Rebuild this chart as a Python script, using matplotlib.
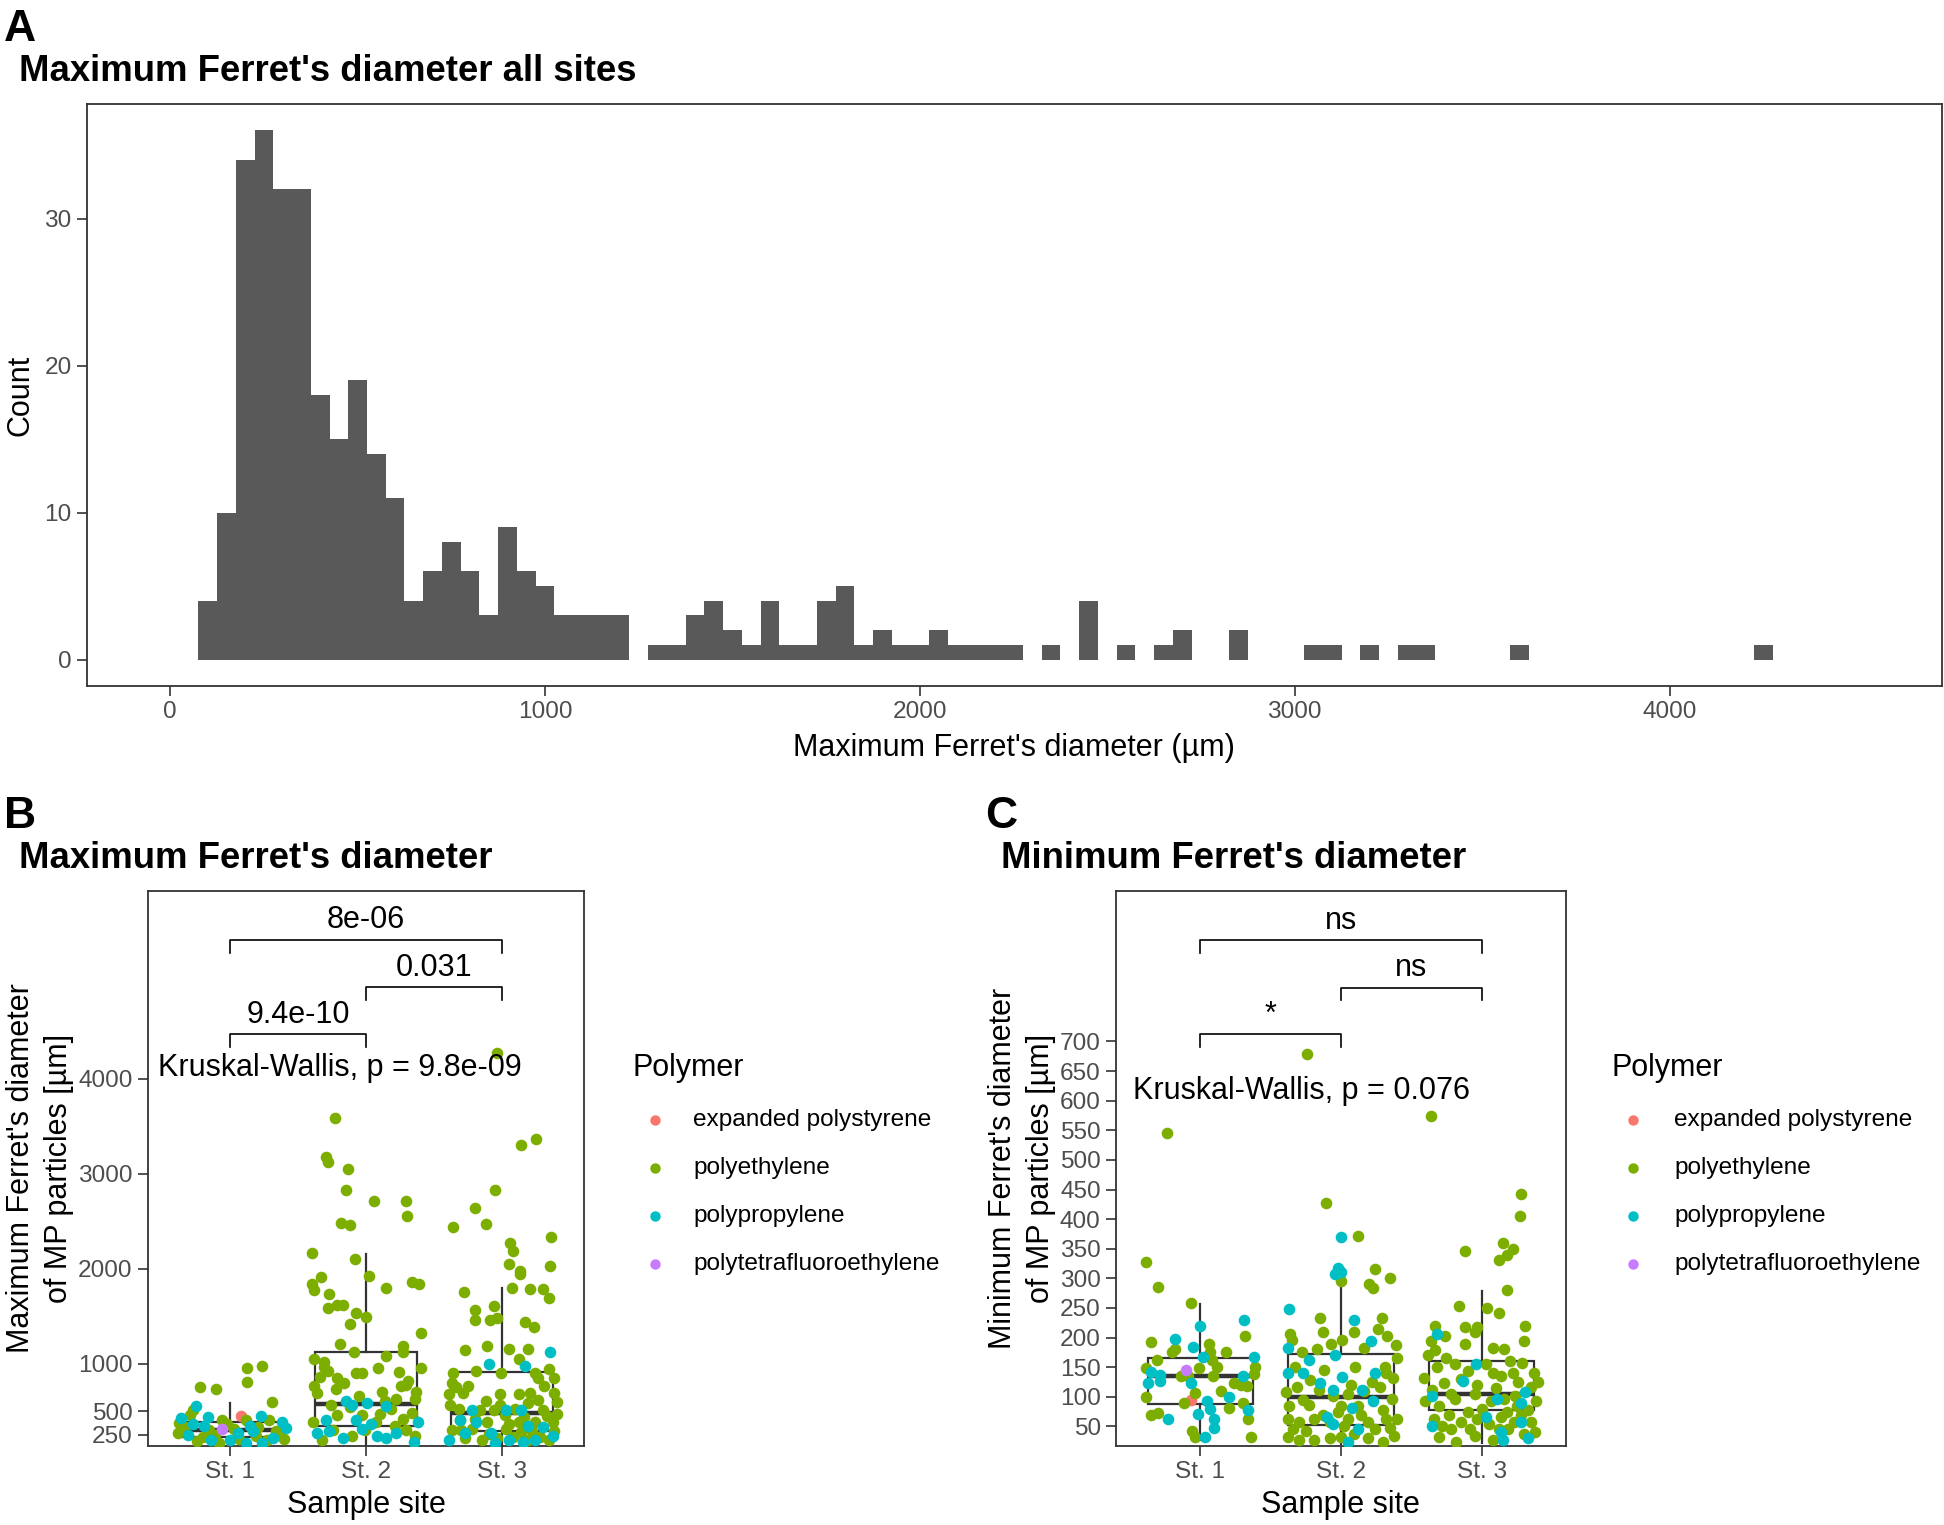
import matplotlib
matplotlib.use("Agg")
import numpy as np
from matplotlib import pyplot as plt

plt.rcParams['font.family'] = ['Liberation Sans', 'DejaVu Sans']

W, H = 1944, 1525

# ---- panel A: histogram of max Feret diameter (binwidth 50, first bin 75-125) ----
BIN_START = 75
BIN_WIDTH = 50
hist_counts = [4, 10, 34, 36, 32, 32, 18, 15, 19, 14, 11, 4, 6, 8, 6, 3, 9, 6, 5, 3, 3, 3, 3,
               0, 1, 1, 3, 4, 2, 1, 4, 1, 1, 4, 5, 1, 2, 1, 1, 2, 1, 1, 1, 1,
               0, 1, 0, 4, 0, 1, 0, 1, 2, 0, 0, 2, 0, 0, 0, 1, 1, 0, 1, 0, 1, 1,
               0, 0, 0, 0, 1, 0, 0, 0, 0, 0, 0, 0, 0, 0, 0, 0, 0, 1]

# ---- panels B / C: points (jitter offset, value, polymer) per site ----
B_ST1 = [(-0.22, 752, 'PE'), (-0.10, 737, 'PE'), (0.13, 956, 'PE'), (0.24, 971, 'PE'), (0.13, 810, 'PE'),
         (0.31, 591, 'PE'), (-0.27, 508, 'PE'), (-0.29, 459, 'PE'), (-0.37, 372, 'PE'), (-0.38, 265, 'PE'),
         (-0.20, 226, 'PE'), (-0.15, 304, 'PE'), (-0.06, 411, 'PE'), (0.03, 313, 'PE'), (0.12, 401, 'PE'),
         (0.29, 411, 'PE'), (0.40, 206, 'PE'), (0.34, 289, 'PE'), (-0.08, 167, 'PE'), (0.19, 240, 'PE'),
         (-0.33, 330, 'PE'), (-0.11, 250, 'PE'), (0.07, 210, 'PE'), (0.21, 330, 'PE'), (0.36, 250, 'PE'),
         (-0.24, 180, 'PE'), (0.27, 200, 'PE'), (-0.02, 360, 'PE'),
         (-0.06, 313, 'PTFE'), (0.08, 445, 'EPS'),
         (-0.36, 425, 'PP'), (-0.25, 557, 'PP'), (-0.19, 338, 'PP'), (-0.14, 196, 'PP'), (0.00, 191, 'PP'),
         (0.23, 445, 'PP'), (0.38, 386, 'PP'), (0.41, 323, 'PP'), (0.17, 289, 'PP'), (0.24, 167, 'PP'),
         (-0.27, 362, 'PP'), (0.12, 167, 'PP'), (-0.31, 250, 'PP'), (0.06, 270, 'PP'), (0.32, 220, 'PP'),
         (-0.16, 440, 'PP'), (0.15, 340, 'PP')]
B_ST2 = [(-0.23, 3586, 'PE'), (-0.29, 3177, 'PE'), (-0.28, 3123, 'PE'), (-0.13, 3050, 'PE'), (-0.15, 2831, 'PE'),
         (0.06, 2714, 'PE'), (0.29, 2709, 'PE'), (0.30, 2554, 'PE'), (-0.18, 2476, 'PE'), (-0.12, 2456, 'PE'),
         (-0.40, 2159, 'PE'), (-0.08, 2101, 'PE'), (-0.33, 1911, 'PE'), (-0.40, 1838, 'PE'), (-0.38, 1774, 'PE'),
         (0.02, 1920, 'PE'), (0.15, 1799, 'PE'), (0.34, 1857, 'PE'), (0.39, 1833, 'PE'), (-0.27, 1735, 'PE'),
         (-0.28, 1589, 'PE'), (-0.21, 1613, 'PE'), (-0.17, 1613, 'PE'), (-0.07, 1531, 'PE'), (0.00, 1492, 'PE'),
         (-0.12, 1419, 'PE'), (0.40, 1326, 'PE'), (-0.19, 1205, 'PE'), (0.27, 1190, 'PE'), (0.27, 1127, 'PE'),
         (-0.09, 1117, 'PE'), (0.15, 1078, 'PE'), (0.40, 956, 'PE'), (-0.38, 1044, 'PE'), (-0.31, 1019, 'PE'),
         (-0.28, 922, 'PE'), (-0.21, 849, 'PE'), (-0.07, 898, 'PE'), (-0.03, 898, 'PE'), (0.09, 956, 'PE'),
         (0.24, 912, 'PE'), (0.26, 761, 'PE'), (0.29, 776, 'PE'), (-0.38, 761, 'PE'), (-0.36, 688, 'PE'),
         (-0.22, 727, 'PE'), (-0.05, 654, 'PE'), (0.14, 606, 'PE'), (0.22, 630, 'PE'), (0.36, 630, 'PE'),
         (-0.39, 386, 'PE'), (-0.21, 459, 'PE'), (-0.03, 459, 'PE'), (0.34, 484, 'PE'), (0.21, 338, 'PE'),
         (0.36, 240, 'PE'), (-0.32, 191, 'PE'), (-0.10, 240, 'PE'), (0.07, 386, 'PE'),
         (-0.34, 860, 'PE'), (-0.31, 960, 'PE'), (0.31, 820, 'PE'), (0.37, 700, 'PE'), (0.18, 520, 'PE'),
         (-0.12, 540, 'PE'), (0.10, 470, 'PE'), (0.27, 420, 'PE'), (-0.26, 560, 'PE'), (-0.01, 300, 'PE'),
         (0.29, 300, 'PE'), (-0.24, 300, 'PE'), (0.12, 700, 'PE'), (-0.16, 800, 'PE'),
         (-0.15, 606, 'PP'), (0.01, 581, 'PP'), (0.15, 557, 'PP'), (-0.07, 411, 'PP'), (0.04, 362, 'PP'),
         (-0.36, 274, 'PP'), (-0.27, 289, 'PP'), (-0.17, 216, 'PP'), (0.08, 240, 'PP'), (0.38, 386, 'PP'),
         (0.35, 177, 'PP'), (0.15, 216, 'PP'), (-0.03, 313, 'PP'), (-0.29, 411, 'PP'), (-0.10, 560, 'PP'),
         (0.22, 270, 'PP')]
B_ST3 = [(-0.04, 4268, 'PE'), (0.25, 3367, 'PE'), (0.14, 3299, 'PE'), (-0.05, 2831, 'PE'), (-0.20, 2636, 'PE'),
         (-0.36, 2442, 'PE'), (-0.12, 2466, 'PE'), (0.06, 2271, 'PE'), (0.08, 2188, 'PE'), (0.36, 2334, 'PE'),
         (0.05, 2052, 'PE'), (0.13, 1979, 'PE'), (0.13, 1945, 'PE'), (0.35, 2032, 'PE'), (0.07, 1799, 'PE'),
         (0.20, 1784, 'PE'), (0.30, 1784, 'PE'), (-0.28, 1750, 'PE'), (0.34, 1687, 'PE'), (-0.20, 1565, 'PE'),
         (-0.20, 1458, 'PE'), (-0.06, 1604, 'PE'), (-0.04, 1482, 'PE'), (-0.09, 1458, 'PE'), (0.17, 1433, 'PE'),
         (0.23, 1385, 'PE'), (-0.11, 1190, 'PE'), (-0.27, 1141, 'PE'), (0.05, 1151, 'PE'), (0.19, 1156, 'PE'),
         (0.12, 1044, 'PE'), (-0.36, 898, 'PE'), (-0.34, 752, 'PE'), (-0.39, 679, 'PE'), (-0.19, 922, 'PE'),
         (-0.01, 898, 'PE'), (0.24, 898, 'PE'), (0.26, 849, 'PE'), (0.34, 942, 'PE'), (0.38, 849, 'PE'),
         (-0.29, 693, 'PE'), (-0.02, 679, 'PE'), (-0.12, 606, 'PE'), (0.12, 679, 'PE'), (0.20, 693, 'PE'),
         (0.38, 693, 'PE'), (-0.32, 518, 'PE'), (-0.16, 508, 'PE'), (-0.06, 508, 'PE'), (0.09, 518, 'PE'),
         (0.19, 581, 'PE'), (0.30, 508, 'PE'), (-0.22, 313, 'PE'), (-0.11, 386, 'PE'), (0.03, 313, 'PE'),
         (0.12, 386, 'PE'), (0.24, 386, 'PE'), (0.37, 386, 'PE'), (-0.37, 304, 'PE'), (-0.27, 216, 'PE'),
         (-0.15, 191, 'PE'), (-0.04, 216, 'PE'), (0.08, 226, 'PE'), (0.22, 289, 'PE'), (0.34, 191, 'PE'),
         (0.38, 289, 'PE'), (-0.31, 411, 'PE'), (0.02, 459, 'PE'),
         (-0.37, 800, 'PE'), (-0.25, 760, 'PE'), (0.31, 760, 'PE'), (0.40, 600, 'PE'), (0.26, 620, 'PE'),
         (-0.20, 420, 'PE'), (0.16, 440, 'PE'), (0.33, 450, 'PE'), (-0.38, 560, 'PE'), (-0.10, 260, 'PE'),
         (0.14, 280, 'PE'), (0.28, 230, 'PE'), (-0.30, 300, 'PE'), (0.05, 360, 'PE'), (0.19, 200, 'PE'),
         (-0.02, 560, 'PE'), (0.40, 470, 'PE'),
         (0.35, 1117, 'PP'), (-0.10, 995, 'PP'), (0.17, 971, 'PP'), (-0.22, 508, 'PP'), (0.03, 508, 'PP'),
         (0.14, 508, 'PP'), (-0.31, 411, 'PP'), (-0.19, 386, 'PP'), (-0.08, 274, 'PP'), (0.19, 338, 'PP'),
         (-0.39, 191, 'PP'), (-0.27, 265, 'PP'), (0.05, 191, 'PP'), (0.15, 177, 'PP'), (0.37, 240, 'PP'),
         (0.24, 191, 'PP'), (-0.05, 167, 'PP'), (0.30, 330, 'PP')]

C_ST1 = [(-0.24, 546, 'PE'), (-0.39, 327, 'PE'), (-0.30, 286, 'PE'), (-0.07, 258, 'PE'), (-0.35, 192, 'PE'),
         (-0.39, 148, 'PE'), (-0.31, 163, 'PE'), (-0.20, 175, 'PE'), (0.06, 189, 'PE'), (0.07, 175, 'PE'),
         (0.08, 163, 'PE'), (0.18, 175, 'PE'), (0.32, 202, 'PE'), (-0.01, 149, 'PE'), (0.09, 136, 'PE'),
         (-0.14, 136, 'PE'), (-0.09, 136, 'PE'), (0.15, 110, 'PE'), (0.24, 124, 'PE'), (0.29, 120, 'PE'),
         (0.39, 151, 'PE'), (0.38, 138, 'PE'), (0.33, 118, 'PE'), (-0.39, 99, 'PE'), (-0.35, 70, 'PE'),
         (-0.30, 72, 'PE'), (-0.12, 89, 'PE'), (-0.04, 106, 'PE'), (-0.06, 42, 'PE'), (-0.04, 32, 'PE'),
         (0.20, 81, 'PE'), (0.34, 63, 'PE'), (0.36, 32, 'PE'), (-0.18, 180, 'PE'), (0.12, 150, 'PE'),
         (0.30, 90, 'PE'),
         (0.00, 220, 'PP'), (-0.18, 197, 'PP'), (-0.05, 184, 'PP'), (0.31, 229, 'PP'), (0.38, 167, 'PP'),
         (-0.35, 142, 'PP'), (-0.29, 137, 'PP'), (-0.37, 123, 'PP'), (-0.29, 126, 'PP'), (-0.07, 123, 'PP'),
         (0.30, 136, 'PP'), (0.02, 167, 'PP'), (0.05, 93, 'PP'), (0.07, 79, 'PP'), (-0.02, 71, 'PP'),
         (0.10, 63, 'PP'), (0.10, 48, 'PP'), (0.20, 99, 'PP'), (0.34, 77, 'PP'), (-0.23, 62, 'PP'),
         (0.03, 32, 'PP'),
         (-0.10, 146, 'PTFE'), (-0.07, 94, 'EPS')]
C_ST2 = [(-0.24, 678, 'PE'), (-0.11, 428, 'PE'), (0.12, 372, 'PE'), (0.24, 315, 'PE'), (0.35, 300, 'PE'),
         (0.20, 290, 'PE'), (0.23, 284, 'PE'), (0.00, 296, 'PE'), (-0.15, 233, 'PE'), (-0.13, 210, 'PE'),
         (0.29, 233, 'PE'), (0.09, 210, 'PE'), (0.26, 214, 'PE'), (0.33, 202, 'PE'), (0.39, 188, 'PE'),
         (-0.36, 206, 'PE'), (-0.35, 196, 'PE'), (-0.28, 175, 'PE'), (-0.17, 180, 'PE'), (0.01, 196, 'PE'),
         (-0.07, 190, 'PE'), (0.16, 183, 'PE'), (0.31, 151, 'PE'), (0.32, 140, 'PE'), (0.40, 165, 'PE'),
         (-0.39, 109, 'PE'), (-0.31, 116, 'PE'), (-0.22, 128, 'PE'), (-0.16, 112, 'PE'), (0.05, 105, 'PE'),
         (0.16, 110, 'PE'), (0.28, 116, 'PE'), (0.37, 132, 'PE'), (0.36, 97, 'PE'), (-0.37, 85, 'PE'),
         (-0.23, 87, 'PE'), (-0.06, 101, 'PE'), (0.00, 85, 'PE'), (0.12, 85, 'PE'), (0.30, 77, 'PE'),
         (-0.38, 62, 'PE'), (-0.30, 58, 'PE'), (-0.19, 63, 'PE'), (-0.08, 58, 'PE'), (0.05, 62, 'PE'),
         (0.19, 58, 'PE'), (0.32, 62, 'PE'), (0.40, 62, 'PE'), (0.38, 34, 'PE'), (-0.38, 32, 'PE'),
         (-0.30, 27, 'PE'), (-0.19, 27, 'PE'), (-0.08, 30, 'PE'), (0.00, 32, 'PE'), (0.09, 37, 'PE'),
         (0.19, 30, 'PE'), (0.30, 23, 'PE'), (-0.25, 42, 'PE'), (0.02, 50, 'PE'),
         (-0.33, 150, 'PE'), (-0.12, 145, 'PE'), (0.10, 150, 'PE'), (0.22, 125, 'PE'), (-0.27, 95, 'PE'),
         (0.07, 120, 'PE'), (-0.13, 70, 'PE'), (0.24, 45, 'PE'), (0.14, 70, 'PE'), (-0.34, 45, 'PE'),
         (-0.02, 75, 'PE'), (0.35, 48, 'PE'),
         (0.00, 370, 'PP'), (0.00, 311, 'PP'), (-0.04, 307, 'PP'), (-0.02, 318, 'PP'), (-0.37, 249, 'PP'),
         (0.09, 229, 'PP'), (0.21, 194, 'PP'), (-0.04, 171, 'PP'), (-0.38, 183, 'PP'), (-0.38, 140, 'PP'),
         (-0.27, 140, 'PP'), (0.01, 133, 'PP'), (-0.23, 163, 'PP'), (-0.15, 123, 'PP'), (-0.06, 112, 'PP'),
         (0.15, 112, 'PP'), (0.23, 93, 'PP'), (0.24, 140, 'PP'), (0.08, 81, 'PP'), (-0.10, 66, 'PP'),
         (0.12, 46, 'PP'), (-0.06, 54, 'PP'), (0.05, 23, 'PP')]
C_ST3 = [(-0.36, 574, 'PE'), (0.28, 443, 'PE'), (0.27, 405, 'PE'), (-0.12, 347, 'PE'), (0.15, 360, 'PE'),
         (0.22, 349, 'PE'), (0.12, 331, 'PE'), (0.18, 339, 'PE'), (0.18, 280, 'PE'), (-0.16, 253, 'PE'),
         (0.04, 250, 'PE'), (0.12, 241, 'PE'), (0.31, 220, 'PE'), (-0.33, 219, 'PE'), (-0.26, 202, 'PE'),
         (-0.36, 194, 'PE'), (-0.33, 179, 'PE'), (-0.12, 218, 'PE'), (-0.03, 218, 'PE'), (-0.05, 210, 'PE'),
         (-0.12, 190, 'PE'), (0.08, 183, 'PE'), (0.16, 180, 'PE'), (0.30, 194, 'PE'), (0.29, 157, 'PE'),
         (-0.41, 132, 'PE'), (-0.35, 112, 'PE'), (-0.27, 124, 'PE'), (-0.19, 155, 'PE'), (-0.10, 144, 'PE'),
         (0.03, 155, 'PE'), (0.14, 136, 'PE'), (0.22, 140, 'PE'), (0.37, 140, 'PE'), (0.35, 116, 'PE'),
         (0.39, 93, 'PE'), (-0.40, 93, 'PE'), (-0.30, 85, 'PE'), (-0.19, 97, 'PE'), (-0.05, 105, 'PE'),
         (0.07, 93, 'PE'), (0.16, 97, 'PE'), (0.24, 101, 'PE'), (0.33, 77, 'PE'), (-0.34, 62, 'PE'),
         (-0.23, 70, 'PE'), (-0.15, 58, 'PE'), (-0.03, 62, 'PE'), (0.05, 54, 'PE'), (0.14, 66, 'PE'),
         (0.23, 58, 'PE'), (0.35, 58, 'PE'), (-0.30, 32, 'PE'), (-0.18, 24, 'PE'), (-0.08, 46, 'PE'),
         (0.08, 27, 'PE'), (0.19, 46, 'PE'), (0.30, 37, 'PE'), (0.38, 40, 'PE'), (-0.05, 34, 'PE'),
         (-0.22, 46, 'PE'),
         (-0.25, 165, 'PE'), (-0.15, 130, 'PE'), (-0.03, 120, 'PE'), (0.10, 115, 'PE'), (0.20, 160, 'PE'),
         (0.26, 125, 'PE'), (-0.32, 150, 'PE'), (0.08, 140, 'PE'), (-0.22, 105, 'PE'), (0.00, 80, 'PE'),
         (0.18, 75, 'PE'), (-0.10, 75, 'PE'), (0.28, 70, 'PE'), (-0.28, 50, 'PE'), (0.12, 45, 'PE'),
         (0.40, 125, 'PE'), (-0.38, 170, 'PE'), (0.25, 85, 'PE'),
         (-0.32, 206, 'PP'), (-0.04, 155, 'PP'), (-0.13, 126, 'PP'), (-0.35, 101, 'PP'), (0.11, 97, 'PP'),
         (0.31, 109, 'PP'), (0.28, 89, 'PP'), (-0.35, 50, 'PP'), (0.03, 66, 'PP'), (0.14, 40, 'PP'),
         (0.28, 58, 'PP'), (0.15, 27, 'PP'), (0.33, 30, 'PP')]

# box statistics per site: (whisker low, q1, median, q3, whisker high)
B_BOX = [(140, 225, 300, 386, 581), (140, 347, 576, 1127, 2154), (140, 289, 484, 912, 1799)]
C_BOX = [(27, 87.5, 136, 165.5, 257), (20, 52, 99, 173, 288), (22, 77, 105, 161, 278)]

SITES = ['St. 1', 'St. 2', 'St. 3']
POLYMERS = ['EPS', 'PE', 'PP', 'PTFE']
POLY_NAMES = ['expanded polystyrene', 'polyethylene', 'polypropylene', 'polytetrafluoroethylene']
POLY_COLORS = ['#F8766D', '#7CAE00', '#00BFC4', '#C77CFF']

# pairwise comparisons: (site a, site b, bracket y, label)
B_PAIRS = [(1, 2, 4467, '9.4e-10'), (2, 3, 4964, '0.031'), (1, 3, 5461, '8e-06')]
C_PAIRS = [(1, 2, 712, '*'), (2, 3, 791, 'ns'), (1, 3, 871, 'ns')]
B_KW = 'Kruskal-Wallis, p = 9.8e-09'
C_KW = 'Kruskal-Wallis, p = 0.076'

DARK = '#333333'
TICKC = '#4D4D4D'

fig = plt.figure(figsize=(W / 100, H / 100), dpi=100)


def px_axes(l, t, r, b):
    return fig.add_axes([l / W, 1 - b / H, (r - l) / W, (b - t) / H])


def style(ax):
    for s in ax.spines.values():
        s.set_color(DARK)
        s.set_linewidth(1.3)
    ax.tick_params(direction='out', length=7, width=1.2, color=DARK,
                   labelcolor=TICKC, labelsize=17.6, pad=4)


def ftext(x, y, s, **kw):
    fig.text(x / W, 1 - y / H, s, **kw)


# ---------- A ----------
axA = px_axes(87, 104, 1942, 686)
edges = BIN_START + BIN_WIDTH * np.arange(len(hist_counts))
axA.bar(edges, hist_counts, width=BIN_WIDTH, align='edge', color='#595959', linewidth=0)
axA.set_xlim(-222, 4727)
axA.set_ylim(-1.8, 37.8)
axA.set_xticks([0, 1000, 2000, 3000, 4000])
axA.set_yticks([0, 10, 20, 30])
style(axA)
ftext(21, 395, 'Count', rotation=90, ha='center', va='center', fontsize=22)
ftext(1014, 748, "Maximum Ferret's diameter (µm)", ha='center', va='center', fontsize=22)
ftext(4, 41, 'A', fontsize=32, fontweight='bold', va='baseline')
ftext(19, 81, "Maximum Ferret's diameter all sites", fontsize=26.3, fontweight='bold', va='baseline')


def box_panel(ax, sites_pts, box, pairs, kw, kw_xy, ylim, yticks, tip):
    stats = [dict(whislo=b[0], q1=b[1], med=b[2], q3=b[3], whishi=b[4]) for b in box]
    ax.bxp(stats, positions=[1, 2, 3], widths=0.75, showfliers=False, showcaps=False,
           patch_artist=True,
           boxprops=dict(facecolor='white', edgecolor=DARK, linewidth=1.6),
           medianprops=dict(color=DARK, linewidth=3.2),
           whiskerprops=dict(color=DARK, linewidth=1.6), zorder=1)
    for i, pts in enumerate(sites_pts):
        for k, poly in enumerate(POLYMERS):
            sel = [p for p in pts if p[2] == poly]
            if not sel:
                continue
            xs = [i + 1 + p[0] for p in sel]
            ys = [p[1] for p in sel]
            ax.scatter(xs, ys, s=70, color=POLY_COLORS[k], linewidths=0, zorder=3)
    for a, b, y, lab in pairs:
        ax.plot([a, a, b, b], [y - tip, y, y, y - tip], color='black', lw=1.2, zorder=4)
        ax.text((a + b) / 2, y + tip * 0.35, lab, ha='center', va='bottom', fontsize=22)
    ax.text(kw_xy[0], kw_xy[1], kw, ha='left', va='center', fontsize=22, zorder=5)
    ax.set_xlim(0.4, 3.6)
    ax.set_ylim(*ylim)
    ax.set_xticks([1, 2, 3])
    ax.set_xticklabels(SITES)
    ax.set_yticks(yticks)
    style(ax)


def legend(x_title, x_dot, x_text):
    ftext(x_title, 1068, 'Polymer', fontsize=22, va='center')
    for j, (name, col) in enumerate(zip(POLY_NAMES, POLY_COLORS)):
        y = 1120 + j * 48
        fig.add_artist(plt.Line2D([x_dot / W], [1 - y / H], marker='o', markersize=7.5,
                                  color=col, markeredgewidth=0, linestyle='none',
                                  transform=fig.transFigure))
        ftext(x_text, y, name, fontsize=17.6, va='center')


# ---------- B ----------
axB = px_axes(148, 891, 584, 1446)
box_panel(axB, [B_ST1, B_ST2, B_ST3], B_BOX, B_PAIRS, B_KW, (0.473, 4112),
          (132, 5976), [250, 500, 1000, 2000, 3000, 4000], 136)
ftext(21, 1168, "Maximum Ferret's diameter", rotation=90, ha='center', va='center', fontsize=22)
ftext(59, 1168, "of MP particles [µm]", rotation=90, ha='center', va='center', fontsize=22)
ftext(366, 1505, 'Sample site', ha='center', va='center', fontsize=22)
ftext(4, 828, 'B', fontsize=32, fontweight='bold', va='baseline')
ftext(19, 868, "Maximum Ferret's diameter", fontsize=26.3, fontweight='bold', va='baseline')
legend(632, 655, 693)

# ---------- C ----------
axC = px_axes(1116, 891, 1566, 1446)
box_panel(axC, [C_ST1, C_ST2, C_ST3], C_BOX, C_PAIRS, C_KW, (0.524, 617),
          (17, 954), list(range(50, 701, 50)), 21)
ftext(1003, 1168, "Minimum Ferret's diameter", rotation=90, ha='center', va='center', fontsize=22)
ftext(1041, 1168, "of MP particles [µm]", rotation=90, ha='center', va='center', fontsize=22)
ftext(1340, 1505, 'Sample site', ha='center', va='center', fontsize=22)
ftext(985, 828, 'C', fontsize=32, fontweight='bold', va='baseline')
ftext(1001, 868, "Minimum Ferret's diameter", fontsize=26.3, fontweight='bold', va='baseline')
legend(1612, 1633, 1674)

fig.savefig('out.png', dpi=100)
